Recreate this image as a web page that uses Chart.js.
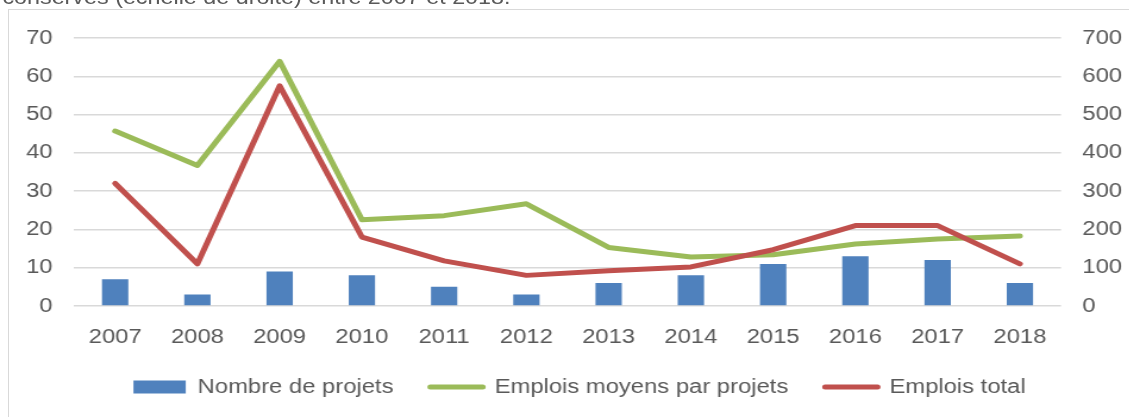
<!DOCTYPE html>
<html lang="fr">
<head>
<meta charset="utf-8">
<title>Projets et emplois 2007-2018</title>
<script src="https://cdn.jsdelivr.net/npm/chart.js@4/dist/chart.umd.min.js"></script>
<style>
    html, body {
        margin: 0;
        padding: 0;
        background: #ffffff;
        overflow: hidden;
    }
    body {
        width: 1129px;
        height: 417px;
        position: relative;
    }
    /* light frame around the chart area */
    #frame {
        position: absolute;
        left: 8px;
        top: 9px;
        width: 1200px;
        height: 500px;
        border: 1.5px solid #d9d9d9;
        box-sizing: border-box;
    }
    /* the whole drawing is stretched a bit horizontally */
    #wrap {
        position: absolute;
        left: 0;
        top: 0;
        width: 956px;
        height: 417px;
        transform: scaleX(1.19);
        transform-origin: 0 0;
    }
    #caption {
        position: absolute;
        left: 2px;
        top: -13px;
        font-family: 'Liberation Sans', Arial, sans-serif;
        font-size: 19.6px;
        line-height: 20px;
        color: #595959;
        white-space: nowrap;
    }
    #chart {
        position: absolute;
        left: 0;
        top: 0;
    }
</style>
</head>
<body>
<div id="frame"></div>
<div id="wrap">
    <div id="caption">conservés (échelle de droite) entre 2007 et 2018.</div>
    <canvas id="chart" width="956" height="417"></canvas>
</div>
<script>
// Years on the horizontal axis
const years = ['2007', '2008', '2009', '2010', '2011', '2012', '2013', '2014', '2015', '2016', '2017', '2018'];

// Number of projects per year (left scale)
const nombreProjets = [7, 3, 9, 8, 5, 3, 6, 8, 11, 13, 12, 6];

// Average jobs per project (left scale)
const emploisMoyens = [45.7, 36.7, 63.9, 22.5, 23.6, 26.7, 15.3, 12.8, 13.4, 16.2, 17.5, 18.3];

// Total jobs (right scale)
const emploisTotal = [320, 110, 575, 180, 118, 80, 92, 102, 147, 210, 210, 110];

// Axis ranges
const leftMax = 70;
const leftStep = 10;
const rightMax = 700;
const rightStep = 100;

const textColor = '#595959';
const gridColor = '#d9d9d9';

document.addEventListener('DOMContentLoaded', function() {
    Chart.defaults.font.family = "'Liberation Sans', Arial, sans-serif";
    Chart.defaults.font.size = 20;
    Chart.defaults.color = textColor;

    createChart();
});

function createChart() {
    const ctx = document.getElementById('chart').getContext('2d');

    window.projetsChart = new Chart(ctx, {
        type: 'bar',
        data: {
            labels: years,
            datasets: [
                {
                    type: 'bar',
                    label: 'Nombre de projets',
                    data: nombreProjets,
                    yAxisID: 'y',
                    backgroundColor: '#4f81bd',
                    borderWidth: 0,
                    barPercentage: 0.32,
                    categoryPercentage: 1,
                    order: 2
                },
                {
                    type: 'line',
                    label: 'Emplois moyens par projets',
                    data: emploisMoyens,
                    yAxisID: 'y',
                    borderColor: '#9bbb59',
                    backgroundColor: '#9bbb59',
                    borderWidth: 5,
                    borderCapStyle: 'round',
                    borderJoinStyle: 'round',
                    pointRadius: 0,
                    tension: 0,
                    order: 1
                },
                {
                    type: 'line',
                    label: 'Emplois total',
                    data: emploisTotal,
                    yAxisID: 'y1',
                    borderColor: '#c0504d',
                    backgroundColor: '#c0504d',
                    borderWidth: 5,
                    borderCapStyle: 'round',
                    borderJoinStyle: 'round',
                    pointRadius: 0,
                    tension: 0,
                    order: 0
                }
            ]
        },
        options: {
            responsive: false,
            animation: false,
            layout: {
                padding: { left: 18, right: 0, top: 38, bottom: 10 }
            },
            scales: {
                x: {
                    offset: true,
                    grid: { display: false },
                    border: { display: false },
                    ticks: { padding: 11, maxRotation: 0 },
                    afterFit: function(axis) { axis.height = 40; }
                },
                y: {
                    position: 'left',
                    min: 0,
                    max: leftMax,
                    ticks: { stepSize: leftStep, padding: 18 },
                    grid: { color: gridColor, lineWidth: 1.5, drawTicks: false },
                    border: { display: false },
                    afterFit: function(axis) { axis.width = 44.2; }
                },
                y1: {
                    position: 'right',
                    min: 0,
                    max: rightMax,
                    ticks: { stepSize: rightStep, padding: 18 },
                    grid: { display: false, drawTicks: false },
                    border: { display: false },
                    afterFit: function(axis) { axis.width = 64.4; }
                }
            },
            plugins: {
                legend: {
                    position: 'bottom',
                    labels: {
                        usePointStyle: true,
                        pointStyleWidth: 44,
                        boxHeight: 13,
                        padding: 31,
                        color: textColor,
                        generateLabels: function(chart) {
                            // bars get a filled box, lines a thick stroke
                            return chart.data.datasets.map(function(ds, i) {
                                const isLine = ds.type === 'line';
                                return {
                                    text: ds.label,
                                    datasetIndex: i,
                                    fillStyle: ds.backgroundColor,
                                    strokeStyle: isLine ? ds.borderColor : ds.backgroundColor,
                                    lineWidth: isLine ? 5 : 0,
                                    lineCap: 'round',
                                    pointStyle: isLine ? 'line' : 'rect',
                                    fontColor: textColor,
                                    hidden: false
                                };
                            });
                        }
                    }
                },
                tooltip: { enabled: false }
            }
        }
    });
}
</script>
</body>
</html>
